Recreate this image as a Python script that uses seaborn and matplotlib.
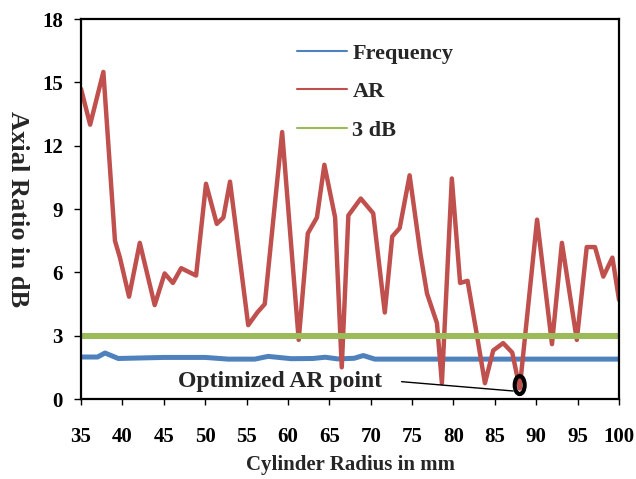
import matplotlib
matplotlib.use('Agg')
import matplotlib.pyplot as plt
import pandas as pd
import seaborn as sns
from matplotlib.patches import Ellipse

# Data
radius_ar = [35, 36.1, 37.7, 39.1, 39.7, 40.8, 42.1, 43.9, 45.1, 46.1, 47.1, 48.9,
             50.1, 51.4, 52.2, 53.0, 55.2, 56.3, 57.2, 59.3, 61.3, 62.4, 63.5,
             64.4, 65.7, 66.5, 67.3, 68.8, 70.3, 71.7, 72.6, 73.5, 74.7, 76.0,
             76.8, 78.0, 78.6, 79.8, 80.8, 81.7, 82.8, 83.8, 84.8, 86.0, 87.1,
             88.0, 90.1, 91.9, 93.1, 94.9, 96.1, 97.1, 98.1, 99.2, 100]
ar_db = [14.7, 13.0, 15.5, 7.5, 6.7, 4.85, 7.4, 4.45, 5.95, 5.5, 6.2, 5.85,
         10.2, 8.3, 8.6, 10.3, 3.5, 4.1, 4.5, 12.65, 2.8, 7.85, 8.6,
         11.1, 8.6, 1.5, 8.7, 9.5, 8.8, 4.1, 7.7, 8.1, 10.6, 6.9,
         5.0, 3.6, 0.75, 10.45, 5.5, 5.6, 3.1, 0.75, 2.3, 2.65, 2.2,
         0.5, 8.5, 2.6, 7.4, 2.8, 7.2, 7.2, 5.8, 6.7, 4.7]

radius_freq = [35, 37, 37.9, 39.5, 45, 50, 52.8, 56, 57.6, 60.4, 63, 64.5, 66,
               68, 69.1, 70.5, 75, 80, 85, 90, 95, 100]
freq = [1.99, 1.99, 2.18, 1.92, 1.97, 1.97, 1.89, 1.89, 2.02, 1.91, 1.92, 1.98,
        1.90, 1.93, 2.06, 1.89, 1.89, 1.89, 1.89, 1.89, 1.89, 1.89]

radius_3db = [35, 100]
level_3db = [3, 3]

opt_radius = 88.0
opt_ar = 0.66

df_ar = pd.DataFrame({'radius': radius_ar, 'value': ar_db})
df_freq = pd.DataFrame({'radius': radius_freq, 'value': freq})
df_3db = pd.DataFrame({'radius': radius_3db, 'value': level_3db})

sns.set_style('white')
plt.rcParams['font.family'] = ['Liberation Serif', 'DejaVu Serif']
plt.rcParams['font.weight'] = 'bold'

fig, ax = plt.subplots(figsize=(6.36, 4.79), dpi=100)
fig.subplots_adjust(left=0.1274, right=0.9733, bottom=0.167, top=0.960)

sns.lineplot(data=df_freq, x='radius', y='value', ax=ax, color='#4F81BD',
             linewidth=3.6, label='Frequency')
sns.lineplot(data=df_ar, x='radius', y='value', ax=ax, color='#C0504D',
             linewidth=3.2, label='AR')
sns.lineplot(data=df_3db, x='radius', y='value', ax=ax, color='#9BBB59',
             linewidth=4.3, label='3 dB')

ax.set_xlim(35, 100)
ax.set_ylim(0, 18)
ax.set_xticks(range(35, 101, 5))
ax.set_yticks(range(0, 19, 3))

for s in ax.spines.values():
    s.set_color('black')
    s.set_linewidth(1.6)

ax.tick_params(axis='x', direction='out', length=4, width=1, pad=16,
               labelsize=15, colors='black', bottom=True)
ax.tick_params(axis='y', direction='out', length=5, width=1, pad=8,
               labelsize=15, colors='black', left=True)
for lab in ax.get_xticklabels() + ax.get_yticklabels():
    lab.set_fontweight('bold')

ax.set_xlabel('Cylinder Radius in mm', fontsize=15, fontweight='bold', labelpad=6)
ax.set_ylabel('Axial Ratio in dB', fontsize=19, fontweight='bold', rotation=270,
              labelpad=26, va='bottom')

leg = ax.legend(loc='upper left', bbox_to_anchor=(0.364, 0.989), frameon=False,
                handlelength=2.27, handletextpad=0.23, labelspacing=0.8,
                prop={'weight': 'bold', 'size': 16})
for h in leg.get_lines():
    h.set_linewidth(1.5)

# Optimized AR point marker and label
ax.add_patch(Ellipse((opt_radius, opt_ar), width=1.2, height=0.85,
                     fill=False, edgecolor='black', linewidth=3, zorder=5))
ax.annotate('Optimized AR point', xy=(opt_radius - 0.8, 0.38),
            xytext=(59.0, 0.85), ha='center', va='center',
            fontsize=17, fontweight='bold',
            arrowprops=dict(arrowstyle='-', color='black', lw=1,
                            shrinkA=12, shrinkB=0,
                            relpos=(1.0, 0.55)))

fig.savefig('out.png', dpi=100)
